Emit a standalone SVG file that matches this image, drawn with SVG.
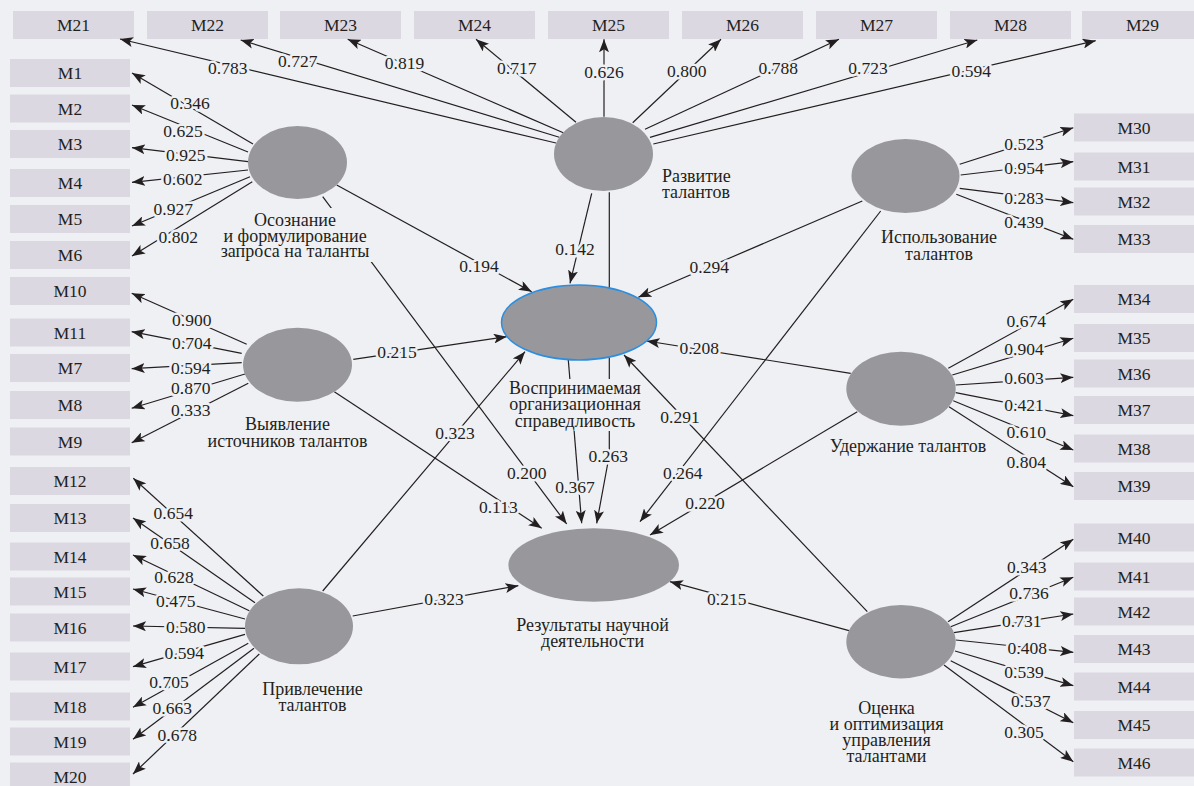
<svg xmlns="http://www.w3.org/2000/svg" width="1194" height="786" viewBox="0 0 1194 786">
<style>
.bg{fill:#eff0f4}
.box{fill:#dcd8e2}
.bt{font-size:17.5px;fill:#231f20;text-anchor:middle}
.lv{fill:#98989c}
.c line,.c polyline{stroke:#231f20;stroke-width:1.2;fill:none;marker-end:url(#ah)}
.w{font-size:17.5px;fill:#231f20;text-anchor:middle;paint-order:stroke;stroke:#eff0f4;stroke-width:5px;stroke-linejoin:round}
.nl{font-size:18px;fill:#231f20;text-anchor:middle}
</style>
<defs>
<marker id="ah" markerWidth="14" markerHeight="10" refX="13" refY="5" orient="auto" markerUnits="userSpaceOnUse">
<path d="M0,0 L13,5 L0,10 L3,5 z" fill="#231f20"/>
</marker>
</defs>
<rect class="bg" x="0" y="0" width="1194" height="786"/>
<g font-family="Liberation Serif, serif">
<g id="indicators">
<g id="M21"><rect class="box" x="13" y="11" width="121" height="28"/><text class="bt" x="73.5" y="31">M21</text></g>
<g id="M22"><rect class="box" x="147" y="11" width="121" height="28"/><text class="bt" x="207.5" y="31">M22</text></g>
<g id="M23"><rect class="box" x="280" y="11" width="121" height="28"/><text class="bt" x="340.5" y="31">M23</text></g>
<g id="M24"><rect class="box" x="414" y="11" width="121" height="28"/><text class="bt" x="474.5" y="31">M24</text></g>
<g id="M25"><rect class="box" x="548" y="11" width="121" height="28"/><text class="bt" x="608.5" y="31">M25</text></g>
<g id="M26"><rect class="box" x="682" y="11" width="121" height="28"/><text class="bt" x="742.5" y="31">M26</text></g>
<g id="M27"><rect class="box" x="816" y="11" width="121" height="28"/><text class="bt" x="876.5" y="31">M27</text></g>
<g id="M28"><rect class="box" x="950" y="11" width="121" height="28"/><text class="bt" x="1010.5" y="31">M28</text></g>
<g id="M29"><rect class="box" x="1082" y="11" width="121" height="28"/><text class="bt" x="1142.5" y="31">M29</text></g>

<g id="M1"><rect class="box" x="10" y="59" width="120" height="28"/><text class="bt" x="70" y="79">M1</text></g>
<g id="M2"><rect class="box" x="10" y="94.5" width="120" height="28"/><text class="bt" x="70" y="114.5">M2</text></g>
<g id="M3"><rect class="box" x="10" y="130" width="120" height="28"/><text class="bt" x="70" y="150">M3</text></g>
<g id="M4"><rect class="box" x="10" y="169" width="120" height="28"/><text class="bt" x="70" y="189">M4</text></g>
<g id="M5"><rect class="box" x="10" y="205" width="120" height="28"/><text class="bt" x="70" y="225">M5</text></g>
<g id="M6"><rect class="box" x="10" y="241" width="120" height="28"/><text class="bt" x="70" y="261">M6</text></g>
<g id="M10"><rect class="box" x="10" y="277" width="120" height="28"/><text class="bt" x="70" y="297">M10</text></g>
<g id="M11"><rect class="box" x="10" y="318.5" width="120" height="28"/><text class="bt" x="70" y="338.5">M11</text></g>
<g id="M7"><rect class="box" x="10" y="354" width="120" height="28"/><text class="bt" x="70" y="374">M7</text></g>
<g id="M8"><rect class="box" x="10" y="391" width="120" height="28"/><text class="bt" x="70" y="411">M8</text></g>
<g id="M9"><rect class="box" x="10" y="427.5" width="120" height="28"/><text class="bt" x="70" y="447.5">M9</text></g>
<g id="M12"><rect class="box" x="10" y="467" width="120" height="28"/><text class="bt" x="70" y="487">M12</text></g>
<g id="M13"><rect class="box" x="10" y="504" width="120" height="28"/><text class="bt" x="70" y="524">M13</text></g>
<g id="M14"><rect class="box" x="10" y="542.5" width="120" height="28"/><text class="bt" x="70" y="562.5">M14</text></g>
<g id="M15"><rect class="box" x="10" y="577.5" width="120" height="28"/><text class="bt" x="70" y="597.5">M15</text></g>
<g id="M16"><rect class="box" x="10" y="613.5" width="120" height="28"/><text class="bt" x="70" y="633.5">M16</text></g>
<g id="M17"><rect class="box" x="10" y="652.5" width="120" height="28"/><text class="bt" x="70" y="672.5">M17</text></g>
<g id="M18"><rect class="box" x="10" y="692.5" width="120" height="28"/><text class="bt" x="70" y="712.5">M18</text></g>
<g id="M19"><rect class="box" x="10" y="727.5" width="120" height="28"/><text class="bt" x="70" y="747.5">M19</text></g>
<g id="M20"><rect class="box" x="10" y="762.5" width="120" height="28"/><text class="bt" x="70" y="782.5">M20</text></g>

<g id="M30"><rect class="box" x="1074" y="113.5" width="120" height="28"/><text class="bt" x="1134" y="133.5">M30</text></g>
<g id="M31"><rect class="box" x="1074" y="152.5" width="120" height="28"/><text class="bt" x="1134" y="172.5">M31</text></g>
<g id="M32"><rect class="box" x="1074" y="187.5" width="120" height="28"/><text class="bt" x="1134" y="207.5">M32</text></g>
<g id="M33"><rect class="box" x="1074" y="225" width="120" height="28"/><text class="bt" x="1134" y="245">M33</text></g>
<g id="M34"><rect class="box" x="1074" y="285" width="120" height="28"/><text class="bt" x="1134" y="305">M34</text></g>
<g id="M35"><rect class="box" x="1074" y="324" width="120" height="28"/><text class="bt" x="1134" y="344">M35</text></g>
<g id="M36"><rect class="box" x="1074" y="359.5" width="120" height="28"/><text class="bt" x="1134" y="379.5">M36</text></g>
<g id="M37"><rect class="box" x="1074" y="396" width="120" height="28"/><text class="bt" x="1134" y="416">M37</text></g>
<g id="M38"><rect class="box" x="1074" y="434.5" width="120" height="28"/><text class="bt" x="1134" y="454.5">M38</text></g>
<g id="M39"><rect class="box" x="1074" y="472" width="120" height="28"/><text class="bt" x="1134" y="492">M39</text></g>
<g id="M40"><rect class="box" x="1074" y="523.5" width="120" height="28"/><text class="bt" x="1134" y="543.5">M40</text></g>
<g id="M41"><rect class="box" x="1074" y="562.5" width="120" height="28"/><text class="bt" x="1134" y="582.5">M41</text></g>
<g id="M42"><rect class="box" x="1074" y="597.5" width="120" height="28"/><text class="bt" x="1134" y="617.5">M42</text></g>
<g id="M43"><rect class="box" x="1074" y="635" width="120" height="28"/><text class="bt" x="1134" y="655">M43</text></g>
<g id="M44"><rect class="box" x="1074" y="672.5" width="120" height="28"/><text class="bt" x="1134" y="692.5">M44</text></g>
<g id="M45"><rect class="box" x="1074" y="711" width="120" height="28"/><text class="bt" x="1134" y="731">M45</text></g>
<g id="M46"><rect class="box" x="1074" y="748.5" width="120" height="28"/><text class="bt" x="1134" y="768.5">M46</text></g>
</g>

<g id="connectors" class="c">
<line x1="253" y1="144" x2="132" y2="73"/>
<line x1="248" y1="152" x2="132" y2="105"/>
<line x1="248" y1="161.7" x2="132" y2="147.7"/>
<line x1="248" y1="170" x2="132" y2="182.3"/>
<line x1="250" y1="176.7" x2="132" y2="226"/>
<line x1="252.3" y1="181.7" x2="132" y2="256"/>

<line x1="556" y1="143" x2="120" y2="39"/>
<line x1="559.3" y1="137.3" x2="240.7" y2="40"/>
<line x1="563.3" y1="132.7" x2="347.7" y2="39.3"/>
<line x1="576" y1="122.3" x2="476" y2="39.3"/>
<line x1="604" y1="116.7" x2="604" y2="39.3"/>
<line x1="632.7" y1="122.7" x2="721" y2="39.3"/>
<line x1="645" y1="129.3" x2="839" y2="39.3"/>
<line x1="650" y1="137.3" x2="977.3" y2="40"/>
<line x1="653.3" y1="144" x2="1095.7" y2="40.7"/>

<line x1="959.7" y1="164.3" x2="1073.3" y2="127.7"/>
<line x1="960.7" y1="175" x2="1073.3" y2="161.7"/>
<line x1="959.7" y1="188.3" x2="1073.3" y2="202.7"/>
<line x1="956.3" y1="194.3" x2="1073.3" y2="239.3"/>

<line x1="948.3" y1="368.3" x2="1073.3" y2="299.3"/>
<line x1="952.3" y1="375" x2="1073.3" y2="338.3"/>
<line x1="955.7" y1="385" x2="1073.3" y2="377.3"/>
<line x1="955.7" y1="392.7" x2="1073.3" y2="415.7"/>
<line x1="953.3" y1="400.7" x2="1073.3" y2="450"/>
<line x1="949" y1="406.7" x2="1073.3" y2="486.7"/>

<line x1="948" y1="621.7" x2="1073.3" y2="539.3"/>
<line x1="950.7" y1="626.7" x2="1073.3" y2="577.3"/>
<line x1="954" y1="632.7" x2="1073.3" y2="614"/>
<line x1="955.7" y1="640" x2="1073.3" y2="652.3"/>
<line x1="955" y1="651" x2="1073.3" y2="685.7"/>
<line x1="950.7" y1="660.7" x2="1073.3" y2="722.7"/>
<line x1="944" y1="665" x2="1073.3" y2="761.7"/>

<line x1="246.7" y1="344.3" x2="131.7" y2="293.3"/>
<line x1="241.7" y1="353.3" x2="131.7" y2="331.7"/>
<line x1="241.7" y1="362.7" x2="131.7" y2="368.7"/>
<line x1="245" y1="374" x2="131.7" y2="408.3"/>
<line x1="248.3" y1="383.3" x2="131.7" y2="442.7"/>

<line x1="263.3" y1="596" x2="133.3" y2="478.3"/>
<line x1="255" y1="602.7" x2="133" y2="518"/>
<line x1="249.3" y1="610.7" x2="133" y2="555"/>
<line x1="245" y1="619" x2="133" y2="589"/>
<line x1="245" y1="628.3" x2="133" y2="626"/>
<line x1="245" y1="634.3" x2="133" y2="666.7"/>
<line x1="248.3" y1="643.3" x2="133" y2="707.3"/>
<line x1="254" y1="648.3" x2="133" y2="739.3"/>
<line x1="259.3" y1="654" x2="133" y2="774"/>

<line x1="336.7" y1="185" x2="531.7" y2="291.7"/>
<line x1="322.7" y1="196.7" x2="566.7" y2="524"/>
<line x1="591.7" y1="193.3" x2="570" y2="283.3"/>
<polyline points="609.3,192.3 609.3,455 596.7,523.3"/>
<line x1="568.3" y1="360" x2="581.7" y2="523.3"/>
<line x1="862.3" y1="201" x2="638.3" y2="297.3"/>
<line x1="880.7" y1="211" x2="640" y2="521.7"/>
<line x1="850.7" y1="373.3" x2="646.7" y2="341"/>
<line x1="857.3" y1="411.7" x2="650" y2="535"/>
<line x1="867.3" y1="611.7" x2="624" y2="355"/>
<line x1="849" y1="630.7" x2="670" y2="581.7"/>
<line x1="353.3" y1="359.3" x2="506.7" y2="336.7"/>
<line x1="334.3" y1="391.7" x2="541.7" y2="528.3"/>
<line x1="322.7" y1="591" x2="525" y2="351.7"/>
<line x1="352.7" y1="616" x2="518.3" y2="585.7"/>
</g>

<g id="weights">
<text class="w" x="190" y="108.8">0.346</text>
<text class="w" x="183" y="136.8">0.625</text>
<text class="w" x="185.7" y="160.8">0.925</text>
<text class="w" x="182.7" y="185.1">0.602</text>
<text class="w" x="173.3" y="214.8">0.927</text>
<text class="w" x="178.3" y="243.1">0.802</text>

<text class="w" x="227.7" y="74.1">0.783</text>
<text class="w" x="297.7" y="66.8">0.727</text>
<text class="w" x="404.5" y="68.8">0.819</text>
<text class="w" x="516.7" y="74.1">0.717</text>
<text class="w" x="604" y="77.5">0.626</text>
<text class="w" x="686.7" y="76.8">0.800</text>
<text class="w" x="778.3" y="74.1">0.788</text>
<text class="w" x="868" y="74.1">0.723</text>
<text class="w" x="971.3" y="76.8">0.594</text>

<text class="w" x="1024" y="150.1">0.523</text>
<text class="w" x="1024" y="174.1">0.954</text>
<text class="w" x="1024" y="204.1">0.283</text>
<text class="w" x="1024" y="227.5">0.439</text>

<text class="w" x="1026.3" y="326.5">0.674</text>
<text class="w" x="1024" y="355.1">0.904</text>
<text class="w" x="1024" y="384.1">0.603</text>
<text class="w" x="1024" y="410.8">0.421</text>
<text class="w" x="1026.3" y="438.1">0.610</text>
<text class="w" x="1026.3" y="468.1">0.804</text>

<text class="w" x="1026.7" y="572.5">0.343</text>
<text class="w" x="1029" y="598.5">0.736</text>
<text class="w" x="1021.7" y="626.8">0.731</text>
<text class="w" x="1027.3" y="654.1">0.408</text>
<text class="w" x="1024" y="678.1">0.539</text>
<text class="w" x="1030.7" y="706.8">0.537</text>
<text class="w" x="1024" y="737.5">0.305</text>

<text class="w" x="191.7" y="325.8">0.900</text>
<text class="w" x="191.7" y="348.5">0.704</text>
<text class="w" x="190.7" y="374.1">0.594</text>
<text class="w" x="190.7" y="394.1">0.870</text>
<text class="w" x="190.7" y="415.8">0.333</text>

<text class="w" x="173.3" y="519.1">0.654</text>
<text class="w" x="170" y="549.1">0.658</text>
<text class="w" x="174" y="582.5">0.628</text>
<text class="w" x="175.7" y="606.8">0.475</text>
<text class="w" x="185.7" y="633.1">0.580</text>
<text class="w" x="184.3" y="659.1">0.594</text>
<text class="w" x="169" y="688.1">0.705</text>
<text class="w" x="172.3" y="714.1">0.663</text>
<text class="w" x="177.3" y="740.8">0.678</text>

<text class="w" x="479" y="271.5">0.194</text>
<text class="w" x="526.7" y="479.1">0.200</text>
<text class="w" x="575" y="255.1">0.142</text>
<text class="w" x="608.3" y="461.5">0.263</text>
<text class="w" x="575" y="492.5">0.367</text>
<text class="w" x="709.3" y="272.5">0.294</text>
<text class="w" x="682.7" y="479.1">0.264</text>
<text class="w" x="699.3" y="353.5">0.208</text>
<text class="w" x="705" y="509.1">0.220</text>
<text class="w" x="680" y="422.5">0.291</text>
<text class="w" x="726.7" y="605.1">0.215</text>
<text class="w" x="397" y="358.3">0.215</text>
<text class="w" x="498.3" y="512.5">0.113</text>
<text class="w" x="455" y="439.1">0.323</text>
<text class="w" x="444" y="604.8">0.323</text>
</g>

<g id="awareness">
<ellipse class="lv" cx="297.5" cy="162.5" rx="49.5" ry="36.5"/>
<rect class="bg" x="218" y="208" width="154" height="54"/>
<text class="nl" x="295" y="226">Осознание</text>
<text class="nl" x="295" y="241.5">и формулирование</text>
<text class="nl" x="295" y="257">запроса на таланты</text>
</g>
<g id="development">
<ellipse class="lv" cx="603.5" cy="154" rx="49.5" ry="37"/>
<text class="nl" x="662" y="181.5" style="text-anchor:start">Развитие</text>
<text class="nl" x="662" y="197.5" style="text-anchor:start">талантов</text>
</g>
<g id="usage">
<ellipse class="lv" cx="905.5" cy="176" rx="54" ry="37"/>
<text class="nl" x="939" y="243">Использование</text>
<text class="nl" x="939" y="259.5">талантов</text>
</g>
<g id="identification">
<ellipse class="lv" cx="297.5" cy="364.7" rx="54.5" ry="37"/>
<text class="nl" x="287.5" y="430">Выявление</text>
<text class="nl" x="287.5" y="446.5">источников талантов</text>
</g>
<g id="justice">
<ellipse cx="579" cy="322.5" rx="77.5" ry="37.5" fill="#98989c" stroke="#2b8ee0" stroke-width="1.5"/>
<rect class="bg" x="508" y="379" width="134" height="52"/>
<text class="nl" x="575" y="393.5">Воспринимаемая</text>
<text class="nl" x="575" y="410">организационная</text>
<text class="nl" x="575" y="426.5">справедливость</text>
</g>
<g id="retention">
<ellipse class="lv" cx="901" cy="388.7" rx="54.7" ry="37"/>
<text class="nl" x="908" y="451.5">Удержание талантов</text>
</g>
<g id="attraction">
<ellipse class="lv" cx="299" cy="626.3" rx="54" ry="38"/>
<text class="nl" x="312.5" y="695">Привлечение</text>
<text class="nl" x="312.5" y="710.5">талантов</text>
</g>
<g id="results">
<ellipse class="lv" cx="593.7" cy="565" rx="85.3" ry="36.7"/>
<text class="nl" x="592.5" y="631">Результаты научной</text>
<text class="nl" x="592.5" y="646.5">деятельности</text>
</g>
<g id="evaluation">
<ellipse class="lv" cx="901" cy="641.7" rx="54.7" ry="36.7"/>
<text class="nl" x="886.5" y="713.5">Оценка</text>
<text class="nl" x="886.5" y="729.5">и оптимизация</text>
<text class="nl" x="886.5" y="745.5">управления</text>
<text class="nl" x="886.5" y="761.5">талантами</text>
</g>
</g>
</svg>
